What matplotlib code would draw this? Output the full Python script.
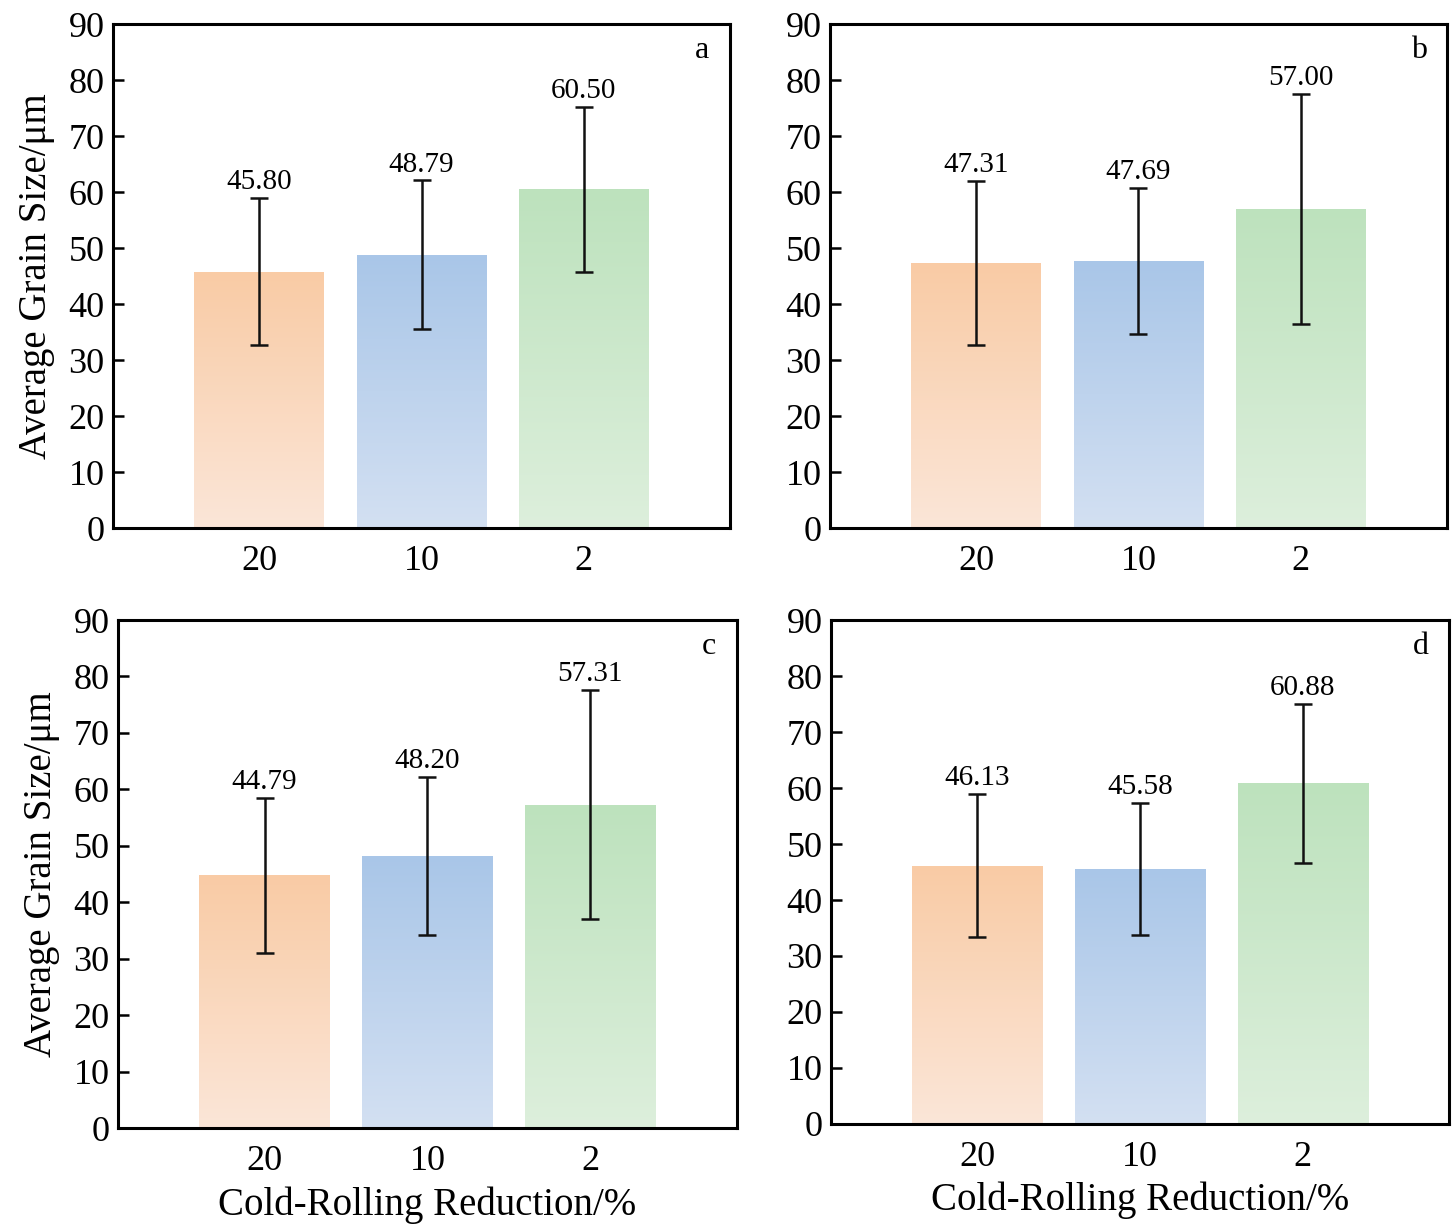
import numpy as np
import matplotlib
matplotlib.use("Agg")
import matplotlib.pyplot as plt
from matplotlib.colors import LinearSegmentedColormap

plt.rcParams['font.family'] = ['Liberation Serif', 'DejaVu Serif']
plt.rcParams['mathtext.fontset'] = 'stix'

categories = ['20', '10', '2']
panel_names = ['a', 'b', 'c', 'd']
means_a = [45.80, 48.79, 60.50]
means_b = [47.31, 47.69, 57.00]
means_c = [44.79, 48.20, 57.31]
means_d = [46.13, 45.58, 60.88]
errs_a = [13.2, 13.3, 14.7]
errs_b = [14.7, 13.1, 20.5]
errs_c = [13.7, 14.0, 20.3]
errs_d = [12.8, 11.8, 14.2]

# bar gradient colours (top, bottom)
grad_colors = [
    ('#f9cba5', '#fbe6d8'),
    ('#a9c6e8', '#d3e0f2'),
    ('#bde2bd', '#ddefdc'),
]

# axes rectangles in figure fraction
positions = [
    [0.0777, 0.5700, 0.4240, 0.4104],
    [0.5704, 0.5700, 0.4241, 0.4104],
    [0.0811, 0.0814, 0.4254, 0.4137],
    [0.5711, 0.0847, 0.4248, 0.4104],
]

all_means = [means_a, means_b, means_c, means_d]
all_errs = [errs_a, errs_b, errs_c, errs_d]

fig = plt.figure(figsize=(14.55, 12.28), dpi=100)


def gradient_bar(ax, bar, top, bottom):
    cmap = LinearSegmentedColormap.from_list('g', [bottom, top])
    x0, y0 = bar.get_x(), bar.get_y()
    w, h = bar.get_width(), bar.get_height()
    grad = np.linspace(0, 1, 256).reshape(-1, 1)
    im = ax.imshow(grad, cmap=cmap, aspect='auto', origin='lower',
                   extent=[x0, x0 + w, y0, y0 + h], zorder=1)
    im.set_clip_path(bar)


for i in range(4):
    ax = fig.add_axes(positions[i])
    x = np.arange(len(categories))
    bars = ax.bar(x, all_means[i], width=0.8, color='none', edgecolor='none', zorder=1)
    for b, (top, bottom) in zip(bars, grad_colors):
        gradient_bar(ax, b, top, bottom)
    ax.errorbar(x, all_means[i], yerr=all_errs[i], fmt='none', ecolor='#111111',
                elinewidth=1.8, capsize=6.5, capthick=1.8, zorder=3)
    for xi, m, e in zip(x, all_means[i], all_errs[i]):
        ax.annotate(f'{m:.2f}', (xi, m + e), xytext=(0, 2), textcoords='offset points',
                    ha='center', va='bottom', fontsize=21)
    ax.set_xlim(-0.9, 2.9)
    ax.set_ylim(0, 90)
    ax.set_yticks(range(0, 91, 10))
    ax.set_xticks(x)
    ax.set_xticklabels(categories)
    ax.tick_params(axis='y', direction='in', length=8, width=1.8, labelsize=26, pad=6)
    ax.tick_params(axis='x', length=0, labelsize=26, pad=12)
    for s in ax.spines.values():
        s.set_linewidth(2.2)
    ax.text(0.955, 0.948, panel_names[i], transform=ax.transAxes,
            ha='center', va='center', fontsize=23)
    if i in (0, 2):
        ax.set_ylabel('Average Grain Size/μm', fontsize=28, labelpad=10)
    if i in (2, 3):
        ax.set_xlabel('Cold-Rolling Reduction/%', fontsize=28, labelpad=6)

fig.savefig('out.png', dpi=100)
